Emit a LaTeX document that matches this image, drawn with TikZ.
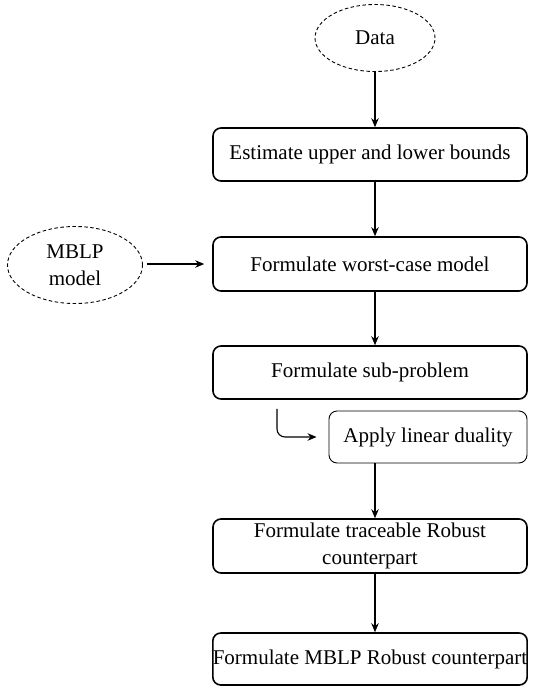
\documentclass[tikz,border=0pt]{standalone}
\usepackage{fontspec}
\setmainfont{Liberation Serif}
\newfontfamily\tmsfont{Liberation Serif}
\usetikzlibrary{shapes.geometric,arrows.meta}
\begin{document}
\begin{tikzpicture}[x=1pt,y=-1pt,
  every node/.style={font=\tmsfont\fontsize{21}{27}\selectfont},
  box/.style={draw, line width=1.6pt, rounded corners=8pt, align=center, inner sep=0pt},
  thinbox/.style={draw, line width=0.9pt, rounded corners=8pt, align=center, inner sep=0pt},
  oval/.style={draw, ellipse, dashed, dash pattern=on 3.5pt off 2.5pt, line width=0.9pt, align=center, inner sep=0pt},
  arr/.style={-{Stealth[length=9pt,width=7.5pt]}, line width=1.1pt}]
\useasboundingbox (0,0) rectangle (535,689);
\node[oval, minimum width=120, minimum height=67] (data) at (375,38) {Data};
\node[oval, minimum width=135, minimum height=77] (mblp) at (75,265) {MBLP\\model};
\node[box, minimum width=314, minimum height=53] (b1) at (370,154.5) {Estimate upper and lower bounds};
\node[box, minimum width=314, minimum height=54] (b2) at (370,264) {Formulate worst-case model};
\node[box, minimum width=314, minimum height=53] (b3) at (370,372.5) {Formulate sub-problem};
\node[thinbox, minimum width=198, minimum height=52] (b4) at (428,437) {Apply linear duality};
\node[box, minimum width=314, minimum height=54] (b5) at (370,546) {Formulate traceable Robust\\counterpart};
\node[box, minimum width=314, minimum height=52] (b6) at (370,659) {Formulate MBLP Robust counterpart};
\coordinate (e1) at (277,437);
\draw[arr] (data.south) -- (data.south |- b1.north);
\draw[arr] ([xshift=5pt]b1.south) -- ([xshift=5pt]b2.north);
\draw[arr] ([xshift=5pt]b2.south) -- ([xshift=5pt]b3.north);
\draw[arr, shorten <=4pt, shorten >=8pt] (mblp.east |- b2.west) -- (b2.west);
\draw[arr, rounded corners=8pt] ([yshift=-9pt]b3.south -| e1) -- (e1) -- ([xshift=-12pt]b4.west);
\draw[arr] ([xshift=5pt]b5.north |- b4.south) -- ([xshift=5pt]b5.north);
\draw[arr] ([xshift=5pt]b5.south) -- ([xshift=5pt]b6.north);
\end{tikzpicture}
\end{document}
